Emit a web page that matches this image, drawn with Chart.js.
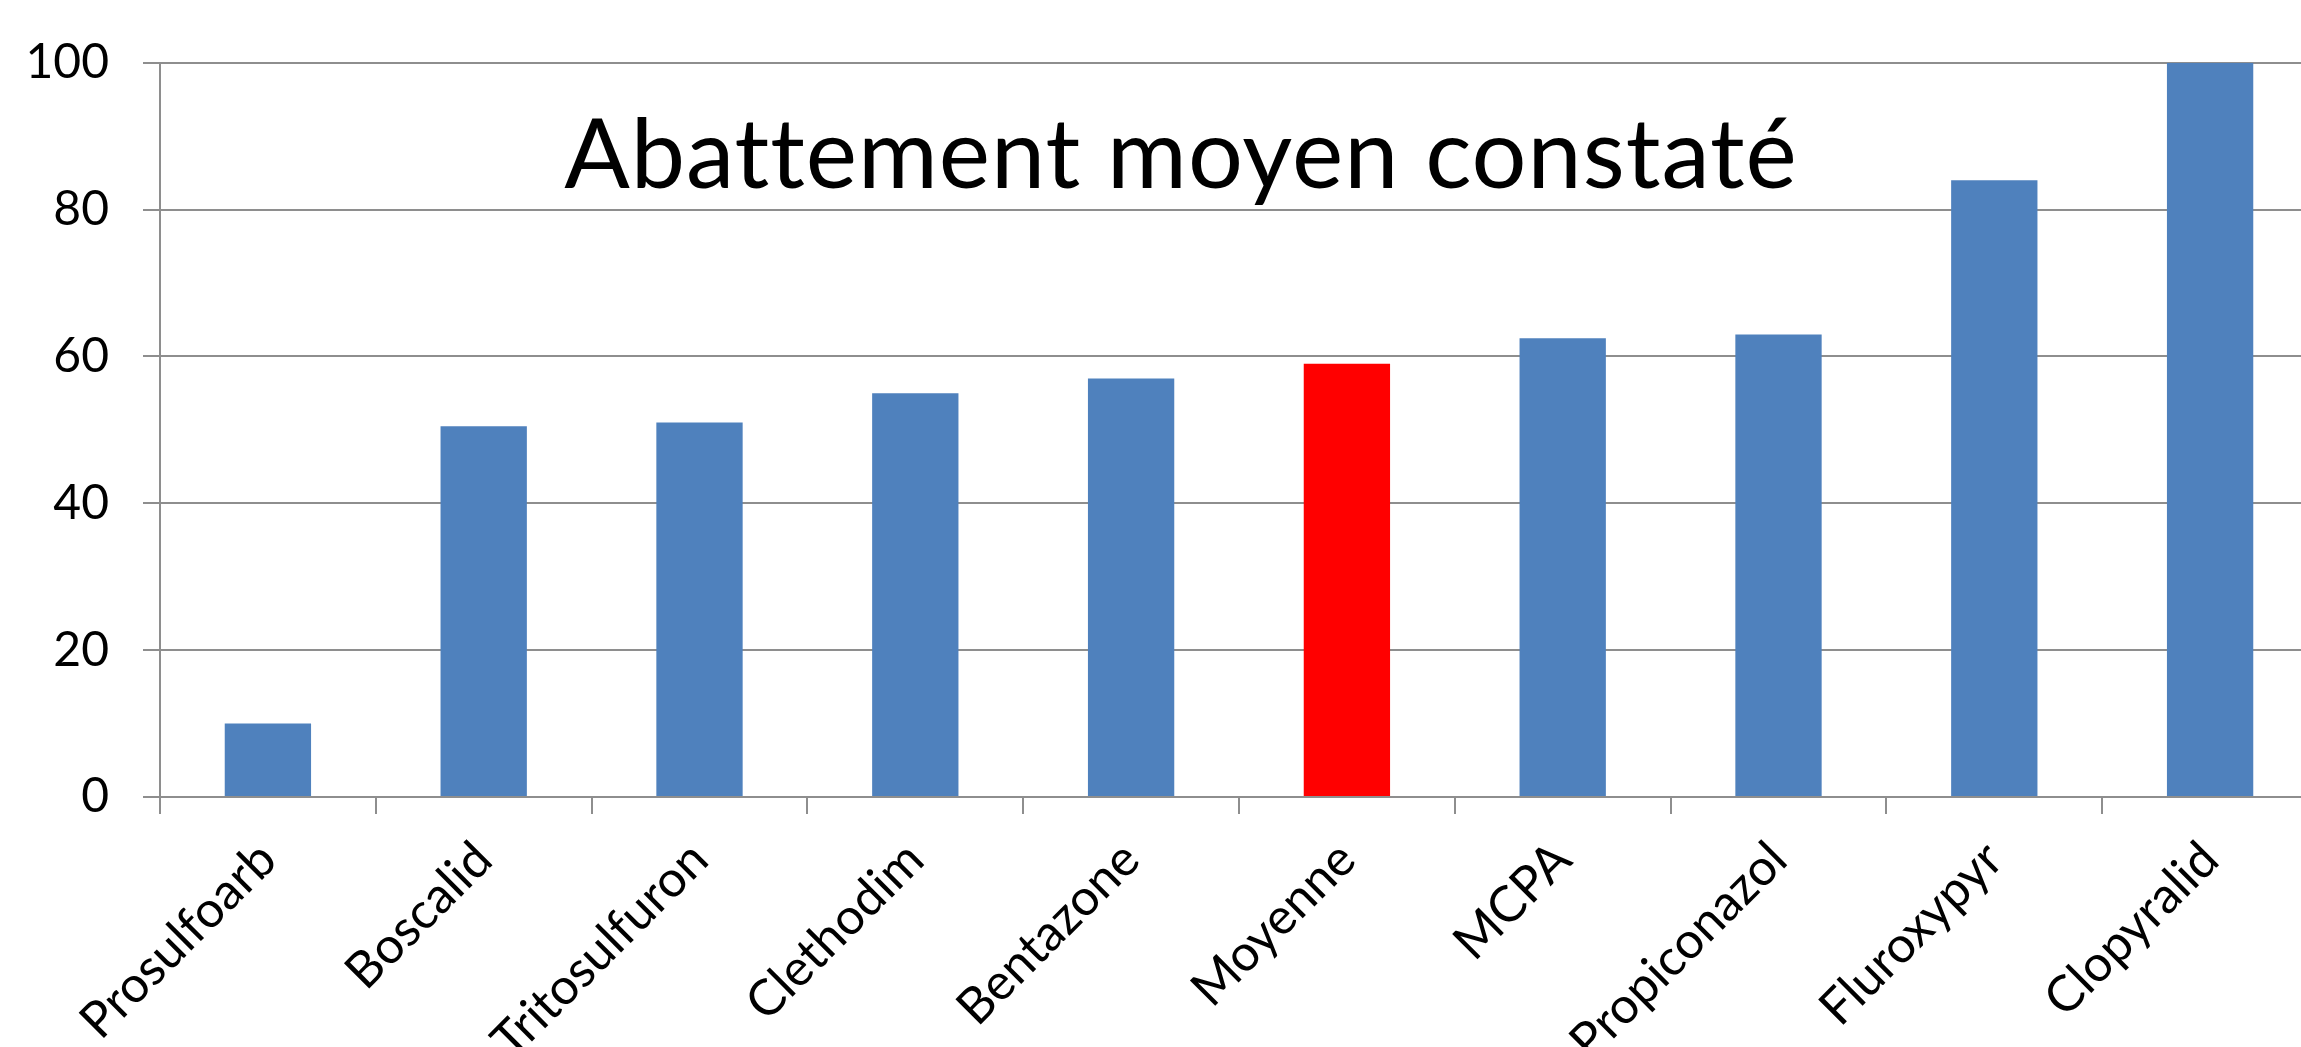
<!DOCTYPE html>
<html lang="fr">
<head>
<meta charset="utf-8">
<title>Abattement moyen constaté</title>
<script src="https://cdn.jsdelivr.net/npm/chart.js@4.4.1/dist/chart.umd.min.js"></script>
<style>
  html, body { margin: 0; padding: 0; background: #fff; overflow: hidden; }
  #cadre { width: 2318px; height: 1047px; }
</style>
</head>
<body>
<div id="cadre"><canvas id="grafico"></canvas></div>
<script>
// --- DONNÉES ---
const categories = ['Prosulfoarb', 'Boscalid', 'Tritosulfuron', 'Clethodim', 'Bentazone', 'Moyenne', 'MCPA', 'Propiconazol', 'Fluroxypyr', 'Clopyralid'];
const abattement = [10, 50.5, 51, 55, 57, 59, 62.5, 63, 84, 100];
const ticksY = [0, 20, 40, 60, 80, 100];
const titre = 'Abattement moyen constaté';

const BLEU = '#4F81BD', ROUGE = '#FF0000', GRIS = '#8E8E8E';
const POLICE = 'Lato, "Open Sans", sans-serif';
const couleurs = categories.map(c => c === 'Moyenne' ? ROUGE : BLEU);

// titre posé dans la zone du graphique (comme dans Excel)
const pluginTitre = {
    id: 'titreInterne',
    afterDraw(chart) {
        const c = chart.ctx;
        c.save();
        c.font = '97px ' + POLICE;
        c.letterSpacing = '1px'; // évite la ligature "tt"
        c.fillStyle = '#000';
        c.textAlign = 'center'; c.textBaseline = 'alphabetic';
        c.fillText(titre, 1181, 188);
        c.restore();
    }
};

new Chart(document.getElementById('grafico').getContext('2d'), {
    type: 'bar',
    data: { labels: categories, datasets: [{ data: abattement, backgroundColor: couleurs, borderWidth: 0, barPercentage: 0.4, categoryPercentage: 1.0 }] },
    options: {
        responsive: true, maintainAspectRatio: false, animation: false,
        layout: { padding: { top: 62, right: 0, left: 0, bottom: 0 } },
        plugins: { legend: { display: false }, title: { display: false }, tooltip: { enabled: false } },
        scales: {
            x: {
                offset: true,
                grid: { display: true, drawOnChartArea: false, offset: true, color: GRIS, lineWidth: 2, tickLength: 17 },
                border: { display: true, color: GRIS, width: 2 },
                ticks: { color: '#000', font: { family: POLICE, size: 50 }, minRotation: 45, maxRotation: 45, padding: 16, autoSkip: false },
                afterFit: (s) => { s.height = 250; }
            },
            y: {
                min: 0, max: 100,
                afterBuildTicks: (s) => { s.ticks = ticksY.map(v => ({ value: v })); },
                grid: { color: GRIS, lineWidth: 2, tickLength: 17 },
                border: { display: true, color: GRIS, width: 2 },
                ticks: { color: '#000', font: { family: POLICE, size: 48 }, padding: 34 },
                afterFit: (s) => { s.width = 160; }
            }
        }
    },
    plugins: [pluginTitre]
});
</script>
</body>
</html>
